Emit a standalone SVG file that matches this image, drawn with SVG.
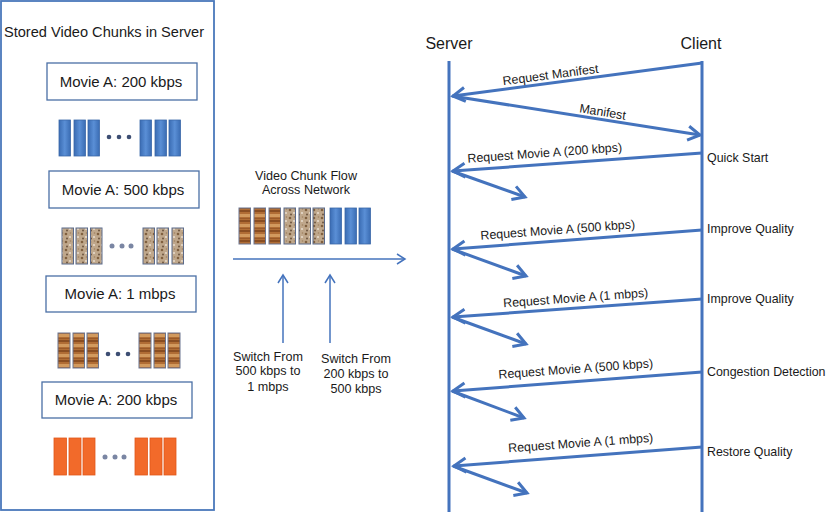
<svg xmlns="http://www.w3.org/2000/svg" width="826" height="512" viewBox="0 0 826 512">
<defs>
<style>
text{font-family:"Liberation Sans",Arial,sans-serif;fill:#1a1a1a}
.t12{font-size:12.4px}
.t125{font-size:12.6px}
.t15{font-size:15px}
.box{fill:#fff;stroke:#4a6fa5;stroke-width:1.3}
.ln{stroke:#4473bd;stroke-width:3;fill:none}
.ar{stroke:#4473bd;stroke-width:3;fill:none;marker-end:url(#ah)}
.thin{stroke:#4473bd;stroke-width:1.5;fill:none}
.cb{fill:url(#gBlue);stroke:#3b68a8;stroke-width:0.8}
.cw{fill:url(#pWood);stroke:#6b7590;stroke-width:1}
.cs{fill:url(#pSpeck);stroke:#5b6a8a;stroke-width:1}
.co{fill:#f26a2a;stroke:#e0571a;stroke-width:0.8}
.dot{fill:#3d4e73}
.dot2{fill:#7a86a3}
</style>
<linearGradient id="gBlue" x1="0" y1="0" x2="1" y2="0">
<stop offset="0" stop-color="#3a6cb3"/><stop offset="0.5" stop-color="#5a8fd6"/><stop offset="1" stop-color="#3a6cb3"/>
</linearGradient>
<pattern id="pWood" width="12" height="10" patternUnits="userSpaceOnUse">
<rect width="12" height="10" fill="#b06d35"/>
<rect y="0" width="12" height="2" fill="#8a4e22"/>
<rect y="4" width="12" height="3" fill="#d29a5e"/>
<rect y="8" width="12" height="1" fill="#9a5a28"/>
</pattern>
<pattern id="pSpeck" width="8" height="8" patternUnits="userSpaceOnUse">
<rect width="8" height="8" fill="#bfa78b"/>
<circle cx="2" cy="2" r="1.3" fill="#80603f"/>
<circle cx="6" cy="5" r="1.1" fill="#e6dacb"/>
<circle cx="3" cy="6.5" r="1" fill="#6e5540"/>
<circle cx="6.5" cy="1" r="0.8" fill="#a08060"/>
</pattern>
<marker id="ah" markerUnits="userSpaceOnUse" markerWidth="20" markerHeight="20" viewBox="-14 -10 16 20" refX="0" refY="0" orient="auto">
<path d="M-12,-7 L0,0 L-12,7" fill="none" stroke="#4473bd" stroke-width="3"/>
</marker>
<marker id="ahs" markerUnits="userSpaceOnUse" markerWidth="14" markerHeight="14" viewBox="-10 -7 12 14" refX="0" refY="0" orient="auto">
<path d="M-8,-5 L0,0 L-8,5" fill="none" stroke="#4473bd" stroke-width="1.5"/>
</marker>
</defs>
<rect width="826" height="512" fill="#fff"/>

<g id="server-store">
<rect x="1" y="1" width="213" height="509" fill="#fff" stroke="#4a78bb" stroke-width="1.8"/>
<text x="104" y="37" font-size="14.6" text-anchor="middle">Stored Video Chunks in Server</text>
</g>

<g id="movie-200-a">
<rect class="box" x="47" y="63" width="150" height="37"/>
<text class="t15" x="121" y="87" text-anchor="middle">Movie A: 200 kbps</text>
</g>
<g id="chunks-blue">
<rect class="cb" x="59" y="120" width="11.5" height="36"/>
<rect class="cb" x="74" y="120" width="11.5" height="36"/>
<rect class="cb" x="88" y="120" width="11.5" height="36"/>
<circle class="dot" cx="109" cy="137" r="2.3"/>
<circle class="dot" cx="119" cy="137" r="2.3"/>
<circle class="dot" cx="129" cy="137" r="2.3"/>
<rect class="cb" x="140" y="120" width="11.5" height="36"/>
<rect class="cb" x="155" y="120" width="11.5" height="36"/>
<rect class="cb" x="169" y="120" width="11.5" height="36"/>
</g>

<g id="movie-500">
<rect class="box" x="49" y="171" width="150" height="37"/>
<text class="t15" x="123" y="195" text-anchor="middle">Movie A: 500 kbps</text>
</g>
<g id="chunks-speck">
<rect class="cs" x="62" y="228" width="11.5" height="36"/>
<rect class="cs" x="76" y="228" width="11.5" height="36"/>
<rect class="cs" x="90.5" y="228" width="11.5" height="36"/>
<circle class="dot2" cx="112" cy="246" r="2.5"/>
<circle class="dot2" cx="122" cy="246" r="2.5"/>
<circle class="dot2" cx="131" cy="246" r="2.5"/>
<rect class="cs" x="143" y="228" width="11.5" height="36"/>
<rect class="cs" x="157" y="228" width="11.5" height="36"/>
<rect class="cs" x="172" y="228" width="11.5" height="36"/>
</g>

<g id="movie-1m">
<rect class="box" x="46" y="276" width="150" height="36"/>
<text class="t15" x="120" y="299" text-anchor="middle">Movie A: 1 mbps</text>
</g>
<g id="chunks-wood">
<rect class="cw" x="58" y="333" width="12" height="35"/>
<rect class="cw" x="73" y="333" width="11.5" height="35"/>
<rect class="cw" x="87" y="333" width="11.5" height="35"/>
<circle class="dot" cx="108" cy="354" r="2.3"/>
<circle class="dot" cx="118" cy="354" r="2.3"/>
<circle class="dot" cx="128" cy="354" r="2.3"/>
<rect class="cw" x="139" y="333" width="12" height="35"/>
<rect class="cw" x="154" y="333" width="11.5" height="35"/>
<rect class="cw" x="168" y="333" width="12" height="35"/>
</g>

<g id="movie-200-b">
<rect class="box" x="42" y="382" width="150" height="36"/>
<text class="t15" x="116" y="405" text-anchor="middle">Movie A: 200 kbps</text>
</g>
<g id="chunks-orange">
<rect class="co" x="54" y="438" width="12.5" height="37"/>
<rect class="co" x="69" y="438" width="12" height="37"/>
<rect class="co" x="83" y="438" width="12" height="37"/>
<circle class="dot2" cx="105" cy="457" r="2.5"/>
<circle class="dot2" cx="115" cy="457" r="2.5"/>
<circle class="dot2" cx="124" cy="457" r="2.5"/>
<rect class="co" x="135" y="438" width="12.5" height="37"/>
<rect class="co" x="150" y="438" width="12" height="37"/>
<rect class="co" x="164" y="438" width="12" height="37"/>
</g>

<g id="chunk-flow">
<text class="t125" x="306" y="180" text-anchor="middle">Video Chunk Flow</text>
<text class="t125" x="306" y="194" text-anchor="middle">Across Network</text>
<rect class="cw" x="239" y="208" width="11.5" height="36"/>
<rect class="cw" x="254" y="208" width="11.5" height="36"/>
<rect class="cw" x="269" y="208" width="11.5" height="36"/>
<rect class="cs" x="284" y="208" width="11.5" height="36"/>
<rect class="cs" x="299" y="208" width="11.5" height="36"/>
<rect class="cs" x="313" y="208" width="11.5" height="36"/>
<rect class="cb" x="330" y="208" width="11.5" height="36"/>
<rect class="cb" x="345" y="208" width="11.5" height="36"/>
<rect class="cb" x="359" y="208" width="11.5" height="36"/>
</g>

<g id="switch-1">
<text class="t125" x="268" y="361" text-anchor="middle">Switch From</text>
<text class="t125" x="268" y="375" text-anchor="middle">500 kbps to</text>
<text class="t125" x="268" y="391" text-anchor="middle">1 mbps</text>
</g>
<g id="switch-2">
<text class="t125" x="356" y="363" text-anchor="middle">Switch From</text>
<text class="t125" x="356" y="378" text-anchor="middle">200 kbps to</text>
<text class="t125" x="356" y="393" text-anchor="middle">500 kbps</text>
</g>

<g id="server">
<text x="449" y="49" font-size="16" text-anchor="middle">Server</text>
<line class="ln" x1="449" y1="61" x2="449" y2="512"/>
</g>
<g id="client">
<text x="701" y="49" font-size="16" text-anchor="middle">Client</text>
<line class="ln" x1="702" y1="61" x2="702" y2="512"/>
</g>

<g id="client-notes">
<text class="t12" x="707" y="162">Quick Start</text>
<text class="t12" x="707" y="233">Improve Quality</text>
<text class="t12" x="707" y="303">Improve Quality</text>
<text class="t12" x="707" y="376">Congestion Detection</text>
<text class="t12" x="707" y="456">Restore Quality</text>
</g>

<g id="connectors">
<line class="thin" x1="233" y1="259" x2="405" y2="259" marker-end="url(#ahs)"/>
<line class="thin" x1="283" y1="343" x2="283" y2="275" marker-end="url(#ahs)"/>
<line class="thin" x1="330" y1="343" x2="330" y2="275" marker-end="url(#ahs)"/>

<line class="ar" x1="702" y1="63" x2="453" y2="96"/>
<line class="ar" x1="452" y1="96" x2="700" y2="135"/>
<line class="ar" x1="702" y1="153" x2="453" y2="171"/>
<line class="ar" x1="452" y1="171" x2="525" y2="197"/>
<line class="ar" x1="702" y1="230" x2="453" y2="249"/>
<line class="ar" x1="452" y1="249" x2="526" y2="276"/>
<line class="ar" x1="702" y1="299" x2="453" y2="317"/>
<line class="ar" x1="452" y1="317" x2="526" y2="344"/>
<line class="ar" x1="702" y1="372" x2="453" y2="391"/>
<line class="ar" x1="452" y1="391" x2="524" y2="418"/>
<line class="ar" x1="702" y1="447" x2="454" y2="466"/>
<line class="ar" x1="453" y1="466" x2="527" y2="493"/>

<text class="t12" transform="translate(551,79) rotate(-7.5)" text-anchor="middle">Request Manifest</text>
<text class="t12" transform="translate(602,116) rotate(9)" text-anchor="middle">Manifest</text>
<text class="t12" transform="translate(545,157) rotate(-4.2)" text-anchor="middle">Request Movie A (200 kbps)</text>
<text class="t12" transform="translate(558,234) rotate(-4.2)" text-anchor="middle">Request Movie A (500 kbps)</text>
<text class="t12" transform="translate(576,302) rotate(-4.2)" text-anchor="middle">Request Movie A (1 mbps)</text>
<text class="t12" transform="translate(576,373) rotate(-4.2)" text-anchor="middle">Request Movie A (500 kbps)</text>
<text class="t12" transform="translate(581,447) rotate(-4.2)" text-anchor="middle">Request Movie A (1 mbps)</text>
</g>
</svg>
